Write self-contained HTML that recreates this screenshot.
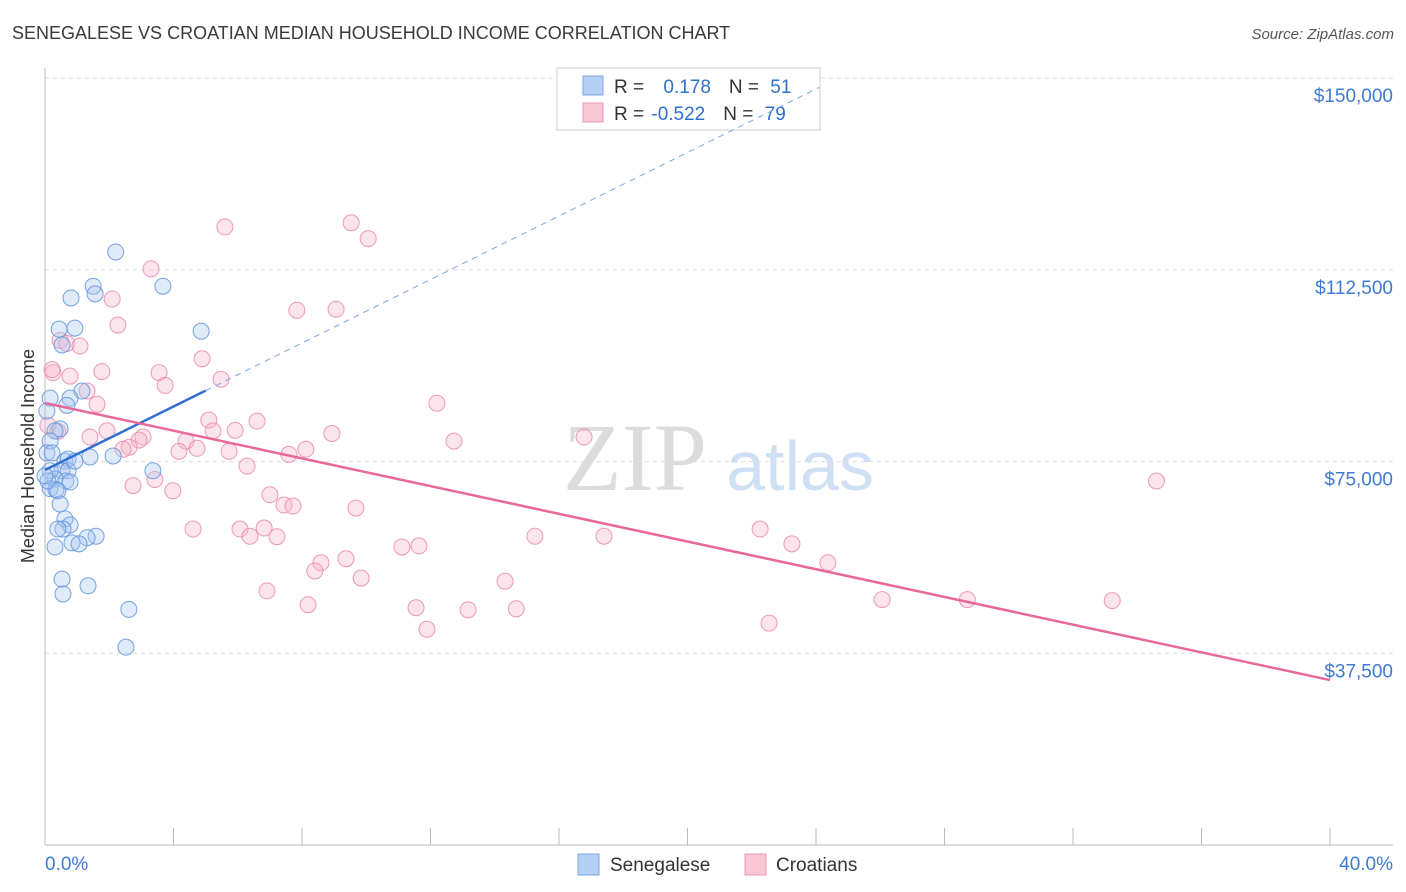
<!DOCTYPE html>
<html><head><meta charset="utf-8"><style>
body{margin:0;background:#fff;font-family:"Liberation Sans",sans-serif;}
svg{display:block}
</style></head><body>
<svg id="chart" width="1406" height="892" xmlns="http://www.w3.org/2000/svg">
<text x="12" y="39" font-size="18" fill="#3a3a3a">SENEGALESE VS CROATIAN MEDIAN HOUSEHOLD INCOME CORRELATION CHART</text>
<text x="1394" y="39" font-size="15" fill="#555" font-style="italic" text-anchor="end">Source: ZipAtlas.com</text>
<text x="635" y="490" font-size="96" fill="#dcdcdc" text-anchor="middle" font-family="Liberation Serif,serif">ZIP</text>
<text x="800" y="490" font-size="70" fill="#cfe0f5" text-anchor="middle">atlas</text>
<g id="grid"></g><g id="axes"></g><g id="pts"></g>
<text transform="translate(34,456) rotate(-90)" font-size="18" fill="#333" text-anchor="middle">Median Household Income</text>
<g>
<rect x="557" y="68" width="263" height="62" fill="#fff" stroke="#ccc"/>
<rect x="583" y="76" width="20" height="19" fill="#b5d0f3" stroke="#7ba7e0"/>
<rect x="583" y="103" width="20" height="19" fill="#f8c6d5" stroke="#eb9ab3"/>
<text x="614" y="93" font-size="19" fill="#333">R = <tspan fill="#2f6fd0" dx="14">0.178</tspan><tspan dx="18" fill="#333">N = </tspan><tspan fill="#2f6fd0" dx="6">51</tspan></text>
<text x="614" y="120" font-size="19" fill="#333">R = <tspan fill="#2f6fd0" dx="2">-0.522</tspan><tspan dx="18" fill="#333">N = </tspan><tspan fill="#2f6fd0" dx="6">79</tspan></text>
</g>
<g id="trend"></g>
<g>
<rect x="578" y="854" width="21" height="21" fill="#b5d0f3" stroke="#7ba7e0"/>
<text x="610" y="871" font-size="19" fill="#333">Senegalese</text>
<rect x="745" y="854" width="21" height="21" fill="#f8c6d5" stroke="#eb9ab3"/>
<text x="776" y="871" font-size="19" fill="#333">Croatians</text>
</g>
<text x="45" y="870" font-size="19" fill="#3d7bd6">0.0%</text>
<text x="1393" y="870" font-size="19" fill="#3d7bd6" text-anchor="end">40.0%</text>
</svg>
<script>
const yTicks=[37500,75000,112500,150000];
const yTickLabels=["$37,500","$75,000","$112,500","$150,000"];
const blueX=[2.2,1.5,1.56,3.67,0.81,0.44,0.93,4.86,0.53,1.15,0.78,0.68,0.16,0.06,0.47,0.31,0.16,0.06,0.22,0.62,0.72,1.4,2.12,3.36,0.53,0.72,0.31,0.65,0.78,0.16,0.34,0.47,0.62,0.78,0.56,0.4,1.59,1.31,0.84,1.06,0.31,0.53,1.34,0.56,2.61,2.52,0.16,0.09,0.4,0.93,0.0];
const blueY=[116000,109300,107800,109300,107000,100900,101100,100500,97800,88800,87400,86000,87400,84900,81400,81000,79000,76700,76700,75100,75500,75900,76100,73200,73200,73200,71600,71200,71000,69700,69500,66700,63800,62600,61800,61800,60400,60100,59100,58900,58300,52000,50700,49100,46100,38700,73200,71200,69300,75100,72200];
const pinkX=[5.6,9.53,10.06,3.3,2.09,7.84,9.06,2.27,0.47,0.68,1.09,4.89,0.25,1.77,3.55,0.78,3.74,5.48,1.31,1.62,12.2,5.1,12.73,6.6,1.93,5.23,0.09,0.4,5.92,8.93,1.4,16.78,3.05,2.93,4.39,2.62,2.43,4.73,4.17,5.73,8.12,7.59,6.29,3.42,3.98,7.0,2.74,7.44,7.72,9.68,4.61,6.07,6.82,6.38,7.22,15.25,17.4,22.26,23.25,11.11,11.64,8.59,9.37,8.4,9.84,14.32,24.37,6.91,26.06,28.71,33.22,8.19,11.55,13.17,14.67,34.6,22.54,11.89,0.22];
const pinkY=[120900,121700,118600,112700,106800,104600,104800,101700,98700,98100,97600,95100,92400,92600,92400,91700,89900,91100,88800,86200,86400,83100,79000,82900,81000,81000,82100,80900,81100,80500,79800,79800,79800,79200,79000,77800,77400,77600,77000,77000,77400,76400,74100,71500,69300,68500,70300,66500,66300,65900,61800,61800,62000,60400,60300,60400,60400,61800,58900,58300,58500,55200,56000,53600,52200,51600,55200,49700,48000,48000,47800,47000,46400,46000,46200,71200,43400,42200,93000];
const blueTrend=[73350,3105];
const pinkTrend=[86460,-1355];
const X=v=>45+v*32.125, Y=v=>845-v/195.6;
const NS="http://www.w3.org/2000/svg";
function mk(t,a,p){const e=document.createElementNS(NS,t);for(const k in a)e.setAttribute(k,a[k]);p.appendChild(e);return e;}
const grid=document.getElementById('grid'),axes=document.getElementById('axes'),pts=document.getElementById('pts'),tr=document.getElementById('trend');
yTicks.forEach((t,i)=>{
 const l=mk('line',{x1:45,x2:1393,y1:Y(t),y2:Y(t),stroke:'#ddd','stroke-dasharray':'4,4'},grid);
 
 
 const tx=mk('text',{x:1393,y:Y(t)+24,'font-size':19,fill:'#3d7bd6','text-anchor':'end'},grid);
 tx.textContent=yTickLabels[i];
 
 
});
const ya=mk('line',{x1:45,x2:45,y1:68,y2:845,stroke:'#bbb'},axes);


const xa=mk('line',{x1:45,x2:1393,y1:845,y2:845,stroke:'#bbb'},axes);


for(let i=0;i<=10;i++){const tk=mk('line',{x1:X(i*4),x2:X(i*4),y1:828,y2:845,stroke:'#bbb'},axes);
 
 }
function dots(xs,ys,fill,stroke,name){xs.forEach((x,i)=>{const c=mk('circle',{cx:X(x),cy:Y(ys[i]),r:8,fill:fill,'fill-opacity':0.35,stroke:stroke,'stroke-width':1,'stroke-opacity':0.85},pts);
 
 });}
dots(pinkX,pinkY,'#f6b3c8','#e98aa8','croatian-point');
dots(blueX,blueY,'#a5c6f0','#5f93da','senegalese-point');
const f=(tdef,x)=>tdef[0]+tdef[1]*x;
const bl=mk('line',{x1:X(0),y1:Y(f(blueTrend,0)),x2:X(5),y2:Y(f(blueTrend,5)),stroke:'#2f6fd0','stroke-width':2.5},tr);


const bd=mk('line',{x1:X(5),y1:Y(f(blueTrend,5)),x2:X(24.1),y2:Y(f(blueTrend,24.1)),stroke:'#7ea6dc','stroke-width':1,'stroke-dasharray':'6,5'},tr);


const pl=mk('line',{x1:X(0),y1:Y(f(pinkTrend,0)),x2:X(40),y2:Y(f(pinkTrend,40)),stroke:'#e8689a','stroke-width':2.5},tr);


</script>
</body></html>
